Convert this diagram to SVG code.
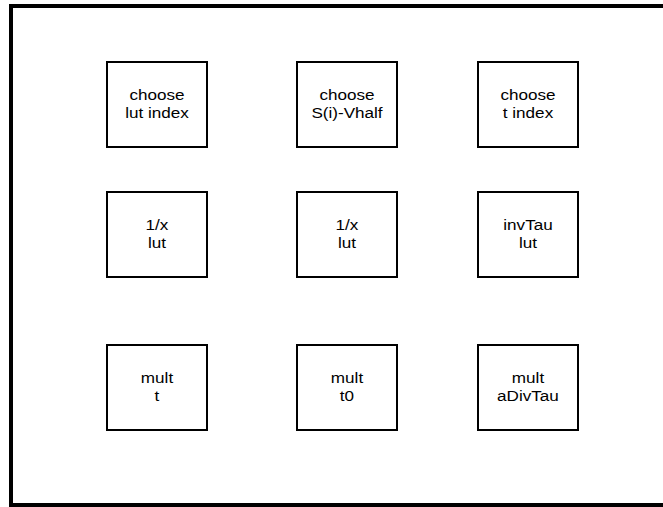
<svg xmlns="http://www.w3.org/2000/svg" width="663" height="507" viewBox="0 0 663 507">
<style>
.frame{fill:none;stroke:#000;stroke-width:4}
.box{fill:#fff;stroke:#000;stroke-width:2}
.lbl{font-family:"Liberation Sans",Arial,sans-serif;font-size:14.5px;fill:#000;text-anchor:middle}
</style>
<rect width="663" height="507" fill="#fff"/>
<rect class="frame" x="11" y="6" width="660" height="499"/>
<g id="n1"><rect class="box" x="107" y="62" width="100" height="85"/><text class="lbl" transform="translate(157 100) scale(1.18 1)">choose</text><text class="lbl" transform="translate(157 117.5) scale(1.18 1)">lut index</text></g>
<g id="n2"><rect class="box" x="297" y="62" width="100" height="85"/><text class="lbl" transform="translate(347 100) scale(1.18 1)">choose</text><text class="lbl" transform="translate(347 117.5) scale(1.18 1)">S(i)-Vhalf</text></g>
<g id="n3"><rect class="box" x="478" y="62" width="100" height="85"/><text class="lbl" transform="translate(528 100) scale(1.18 1)">choose</text><text class="lbl" transform="translate(528 117.5) scale(1.18 1)">t index</text></g>
<g id="n4"><rect class="box" x="107" y="192" width="100" height="85"/><text class="lbl" transform="translate(157 230) scale(1.18 1)">1/x</text><text class="lbl" transform="translate(157 247.5) scale(1.18 1)">lut</text></g>
<g id="n5"><rect class="box" x="297" y="192" width="100" height="85"/><text class="lbl" transform="translate(347 230) scale(1.18 1)">1/x</text><text class="lbl" transform="translate(347 247.5) scale(1.18 1)">lut</text></g>
<g id="n6"><rect class="box" x="478" y="192" width="100" height="85"/><text class="lbl" transform="translate(528 230) scale(1.18 1)">invTau</text><text class="lbl" transform="translate(528 247.5) scale(1.18 1)">lut</text></g>
<g id="n7"><rect class="box" x="107" y="345" width="100" height="85"/><text class="lbl" transform="translate(157 383) scale(1.18 1)">mult</text><text class="lbl" transform="translate(157 400.5) scale(1.18 1)">t</text></g>
<g id="n8"><rect class="box" x="297" y="345" width="100" height="85"/><text class="lbl" transform="translate(347 383) scale(1.18 1)">mult</text><text class="lbl" transform="translate(347 400.5) scale(1.18 1)">t0</text></g>
<g id="n9"><rect class="box" x="478" y="345" width="100" height="85"/><text class="lbl" transform="translate(528 383) scale(1.18 1)">mult</text><text class="lbl" transform="translate(528 400.5) scale(1.18 1)">aDivTau</text></g>
<g id="connectors"></g>
</svg>
